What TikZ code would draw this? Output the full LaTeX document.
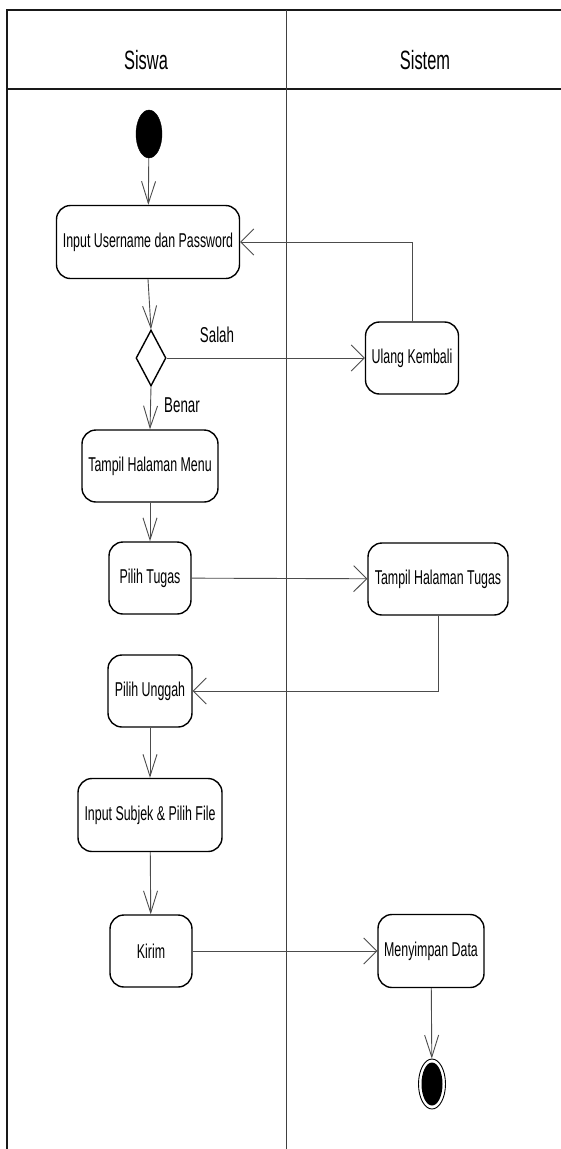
\documentclass[tikz,border=0pt]{standalone}
\usepackage{fontspec}
\setmainfont{Liberation Sans}[FakeStretch=0.62]
\usetikzlibrary{arrows.meta,shapes.geometric}
\begin{document}
\begin{tikzpicture}[x=1pt,y=-1pt,
  act/.style={draw=black,line width=1.4pt,rounded corners=14pt,inner sep=0pt,
    font=\fontsize{20}{24}\selectfont},
  flow/.style={draw=black!70,line width=0.9pt},
  varr/.style={flow,-{Straight Barb[length=22pt,width=14pt]}},
  harr/.style={flow,-{Straight Barb[length=13pt,width=26pt]}},
  lane/.style={font=\fontsize{26.5}{30}\selectfont},
  guard/.style={font=\fontsize{21.5}{26}\selectfont}]
\useasboundingbox (0,0) rectangle (561,1149);
\fill[white] (0,0) rectangle (561,1149);

% swimlane frame
\draw[line width=1.8pt,black!90] (7,1149) -- (7,10) -- (561,10);
\draw[line width=1.8pt,black!90] (7,89) -- (561,89);
\draw[line width=1pt,black!75] (286,10) -- (286,1149);
\node[lane] (lsiswa) at (146,60) {Siswa};
\node[lane] (lsistem) at (425,60) {Sistem};

% start and end
\node[ellipse,fill=black,draw=black,minimum width=26pt,minimum height=48pt,inner sep=0pt] (start) at (149,134) {};
\node[ellipse,draw=black,line width=0.9pt,fill=white,minimum width=27pt,minimum height=50pt,inner sep=0pt] (end) at (432,1084) {};
\node[ellipse,fill=black,minimum width=21pt,minimum height=43pt,inner sep=0pt] (endcore) at (432,1084) {};

% activities
\node[act,minimum width=183pt,minimum height=73pt] (login) at (148,242) {Input Username dan Password};
\node[act,minimum width=93pt,minimum height=72pt] (ulang) at (412,358) {Ulang Kembali};
\node[diamond,draw=black,line width=1.4pt,inner sep=0pt,minimum width=30pt,minimum height=56pt,aspect=0.54] (cek) at (151,358) {};
\node[act,minimum width=136pt,minimum height=72pt] (menu) at (150,466) {Tampil Halaman Menu};
\node[act,minimum width=82pt,minimum height=72pt] (pilih) at (150,578) {Pilih Tugas};
\node[act,minimum width=140pt,minimum height=72pt] (tugas) at (438,579) {Tampil Halaman Tugas};
\node[act,minimum width=84pt,minimum height=72pt] (unggah) at (150,691) {Pilih Unggah};
\node[act,minimum width=144pt,minimum height=73pt] (subjek) at (150,815) {Input Subjek \& Pilih File};
\node[act,minimum width=82pt,minimum height=72pt] (kirim) at (151,951) {Kirim};
\node[act,minimum width=106pt,minimum height=73pt] (simpan) at (431,951) {Menyimpan Data};

% flows
\draw[varr] (start) -- (login);
\draw[varr] (login.south) -- (cek.north);
\draw[harr] (cek.east) -- (ulang.west);
\node[guard] (salah) at (217,335) {Salah};
\draw[harr] (ulang.north) |- (login.east);
\draw[varr] (cek.south) -- (menu.north);
\node[guard] (benar) at (182,405) {Benar};
\draw[varr] (menu) -- (pilih);
\draw[harr] (pilih) -- (tugas);
\draw[harr] (tugas.south) |- (unggah.east);
\draw[varr] (unggah) -- (subjek);
\draw[varr] (subjek) -- (kirim);
\draw[harr] (kirim) -- (simpan);
\draw[varr] (simpan) -- (end);
\end{tikzpicture}
\end{document}
